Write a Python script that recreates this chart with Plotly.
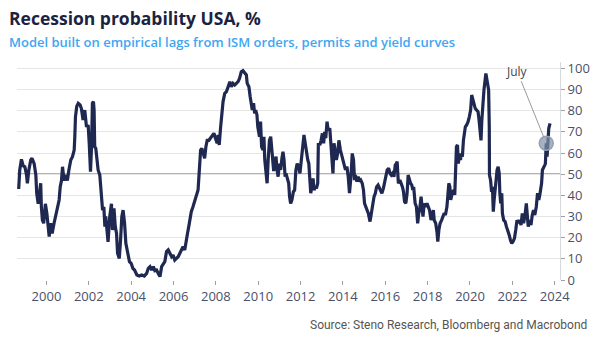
import plotly.graph_objects as go

years = [
1998.69,1998.74,1998.82,1998.90,1998.98,1999.06,1999.10,1999.17,1999.26,1999.32,1999.42,1999.50,1999.54,1999.61,1999.69,1999.73,1999.76,1999.81,1999.87,1999.95,
2000.02,2000.08,2000.13,2000.20,2000.27,2000.36,2000.43,2000.52,2000.60,2000.65,2000.71,2000.76,2000.83,2000.91,2000.99,
2001.06,2001.15,2001.23,2001.31,2001.34,2001.37,2001.43,2001.50,2001.59,2001.65,2001.73,2001.81,2001.89,2001.97,
2002.02,2002.05,2002.08,2002.13,2002.17,2002.22,2002.25,2002.28,2002.33,2002.39,2002.44,2002.52,2002.60,2002.65,2002.71,2002.76,2002.80,2002.87,2002.91,2002.99,
2003.07,2003.12,2003.19,2003.25,2003.31,2003.36,2003.44,2003.50,2003.56,2003.62,2003.69,2003.75,2003.84,2003.92,
2004.00,2004.08,2004.16,2004.27,2004.38,2004.50,2004.62,2004.73,2004.81,2004.89,2004.97,
2005.05,2005.12,2005.20,2005.28,2005.36,2005.44,2005.52,2005.59,2005.67,2005.75,2005.83,2005.91,2005.98,
2006.06,2006.14,2006.22,2006.30,2006.37,2006.45,2006.53,2006.59,2006.66,2006.72,2006.78,2006.84,2006.92,
2007.00,2007.08,2007.16,2007.20,2007.25,2007.28,2007.34,2007.41,2007.47,2007.53,2007.59,2007.67,2007.75,2007.83,2007.91,2007.98,
2008.06,2008.11,2008.16,2008.22,2008.28,2008.34,2008.42,2008.50,2008.58,2008.66,2008.73,2008.81,2008.89,2008.97,
2009.05,2009.12,2009.20,2009.28,2009.36,2009.44,2009.48,2009.56,2009.62,2009.67,2009.72,2009.78,2009.83,2009.88,2009.94,2009.98,
2010.06,2010.11,2010.16,2010.22,2010.27,2010.31,2010.38,2010.42,2010.47,2010.53,2010.59,2010.64,2010.69,2010.73,2010.78,2010.84,2010.89,2010.94,
2011.00,2011.06,2011.12,2011.17,2011.22,2011.27,2011.31,2011.38,2011.44,2011.48,2011.53,2011.59,2011.66,2011.72,2011.78,2011.84,2011.91,2011.97,
2012.03,2012.09,2012.16,2012.22,2012.28,2012.34,2012.39,2012.44,2012.48,2012.53,2012.59,2012.64,2012.70,2012.75,2012.81,2012.84,2012.91,2012.97,
2013.03,2013.09,2013.14,2013.19,2013.25,2013.30,2013.38,2013.42,2013.47,2013.53,2013.58,2013.64,2013.69,2013.75,2013.81,2013.88,2013.94,
2014.00,2014.06,2014.12,2014.19,2014.25,2014.31,2014.38,2014.44,2014.50,2014.55,2014.59,2014.66,2014.72,2014.78,2014.84,2014.91,2014.97,
2015.02,2015.08,2015.14,2015.20,2015.28,2015.34,2015.41,2015.47,2015.53,2015.59,2015.66,2015.72,2015.78,2015.84,2015.91,2015.97,
2016.03,2016.09,2016.16,2016.22,2016.28,2016.34,2016.41,2016.47,2016.52,2016.56,2016.59,2016.62,2016.69,2016.75,2016.81,2016.86,2016.91,2016.97,
2017.03,2017.08,2017.12,2017.19,2017.25,2017.30,2017.34,2017.41,2017.47,2017.53,2017.58,2017.62,2017.69,2017.73,2017.78,2017.84,2017.91,2017.97,
2018.03,2018.09,2018.16,2018.22,2018.27,2018.31,2018.38,2018.44,2018.48,2018.53,2018.59,2018.66,2018.72,2018.78,2018.84,2018.91,2018.95,
2019.00,2019.05,2019.09,2019.16,2019.22,2019.28,2019.33,2019.36,2019.41,2019.45,2019.50,2019.55,2019.59,2019.64,2019.69,2019.73,2019.78,2019.84,2019.91,2019.97,
2020.03,2020.08,2020.12,2020.19,2020.25,2020.31,2020.38,2020.42,2020.47,2020.52,2020.56,2020.61,2020.66,2020.75,2020.83,2020.88,2020.91,2020.92,2020.97,
2021.02,2021.06,2021.10,2021.14,2021.19,2021.24,2021.28,2021.33,2021.38,2021.41,2021.45,2021.50,2021.53,2021.59,2021.66,2021.72,2021.78,2021.85,2021.91,2021.97,
2022.03,2022.10,2022.16,2022.22,2022.28,2022.34,2022.41,2022.47,2022.53,2022.60,2022.66,2022.71,2022.75,2022.81,2022.88,2022.94,
2023.00,2023.06,2023.13,2023.19,2023.25,2023.31,2023.38,2023.42,2023.47,2023.53,2023.56,2023.60,2023.64,2023.67,2023.72,2023.78,
]

probability = [
43,52,57,54,53.5,49.6,45.7,52,56.7,57.5,55,49.6,41,36,42.5,45.7,34.6,28.3,26.8,36,
31.5,25.2,20.5,26.8,22,26.8,30,33,37.8,44,47,53.5,47,49.6,47,
52,56.7,58.3,61.4,67.7,77,82,83.5,82.7,81,75.6,80.3,72.4,73.2,
64.6,52,51.2,63,83.5,84.3,80.3,63,62.2,56.7,52,49.6,41,33,34.6,25.2,30,20.5,18,30,
36,23.6,33.9,25.2,22,12.6,10.2,18.9,30,33,26.8,17.3,12.6,8.7,
7.9,5.5,4.7,2.4,1.9,2.4,1.9,3.1,5.5,6.3,4.7,
6.3,4.4,4.7,3.1,1.6,6.3,7.9,8.7,13.4,14.2,12.6,11,11.8,
9.4,10.2,11,12.6,14.2,15.7,14.2,18.9,22,25.2,30,32.3,34.6,
37,39.4,42.5,48.8,56.7,61.4,62.2,59.8,57.5,63,66,66,67,68.5,69.3,67,
64.6,68.5,63.8,71.7,78.7,84.3,88.2,89,91.3,93.7,91.3,92.9,92.1,92.9,
93.7,95.3,98.4,98.9,97.6,96.9,92.9,91.3,86.6,83.5,80.3,83.5,78.7,80.3,78,72.4,
67.7,74.8,63,61.4,67.7,56.7,51.5,45.7,56.7,66,67.7,61.4,56.7,51.5,55,58.3,52,48.8,
55,52,57.5,60.6,56.7,48.8,50.4,48,45.7,39.4,36.2,37.8,41.7,42.5,52,55,53.5,50.4,
56.7,63,68.5,64.6,59.8,56.7,55,47.2,41,44,48,42.5,44,43.3,45.7,64.6,63.8,66,
69.3,64.6,70,67,74.8,70.9,71.7,66,58.3,50.4,64.6,61.4,56.7,59.8,66,61.4,59,
57.5,55,52,53.5,48.8,41,48.8,59.8,56.7,47.2,49.6,46.5,48.8,46.5,47.2,45.7,42.5,
36.2,34.6,33,31.5,27.6,31.5,36.2,39.4,41,44,44.9,43.3,41.7,41,43.3,45.7,
48.8,52,52.8,50.4,49.6,50.4,48.8,54.3,55,55.9,50.4,45.7,47.2,45.7,44,41.7,37,36.2,
41,49.6,48,45.7,44.9,42.5,44,36.2,34.6,26.8,31.5,33,39.4,34.6,30,36.2,34.6,36.2,
34.6,33,28.3,31.5,33,28.3,26.8,22.8,18.1,23.6,26.8,28.3,30,31.5,30.7,34.6,39.4,
45.7,44,37.8,41,42.5,40.2,52,63,63.8,55,59.8,56.7,59,58.3,66,68.5,72.4,73.2,74.8,77.2,
80.3,87.4,85.8,83.5,81,80.3,79.5,76.4,70.9,66,75.6,83.5,89.8,97.6,92.9,89.8,72.4,49.6,47.2,
41.7,44,32.3,37.8,44,50.4,52,53.5,50.4,41,36.2,41,31.5,28.3,27.6,25.2,23.6,21.3,18.9,17.3,
18.1,19.7,23.6,28.3,26.8,28.3,26,31.5,26.8,30.7,36.2,30,25.2,28.3,26,30.7,
33,30.7,34.6,41,37.8,41,45.7,52,53.5,54.3,55,64.6,58.3,64.6,71.7,74,
]

july_year = [2023.60]
july_value = [64.6]
july_label = "July"

x_tick_vals = list(range(2000, 2025, 2))
x_tick_text = [str(v) for v in x_tick_vals]
y_tick_vals = list(range(0, 101, 10))

title_text = "Recession probability USA, %"
subtitle_text = "Model built on empirical lags from ISM orders, permits and yield curves"
source_text = "Source: Steno Research, Bloomberg and Macrobond"

W, H = 602, 344
L, R, T, B = 17, 38, 62, 64
PW, PH = W - L - R, H - T - B

def px(xp):
    return (xp - L) / PW

def py(yp):
    return (H - B - yp) / PH

FONT = "Open Sans"
fig = go.Figure()
fig.add_trace(go.Scatter(
    x=years, y=probability, mode="lines",
    line=dict(color="#1f2850", width=3.2),
    hoverinfo="skip", showlegend=False,
))
fig.add_trace(go.Scatter(
    x=july_year, y=july_value, mode="markers",
    marker=dict(size=14, color="rgba(125,145,170,0.7)",
                line=dict(color="rgba(150,160,175,1)", width=1.5)),
    hoverinfo="skip", showlegend=False,
))

fig.add_shape(type="line", xref="paper", yref="y", x0=0, x1=1, y0=50, y1=50,
              line=dict(color="#5f6f85", width=1.5), layer="below")

fig.add_annotation(x=july_year[0], y=july_value[0], xref="x", yref="y",
                   text=july_label, showarrow=True, arrowhead=0, arrowwidth=1,
                   arrowcolor="#9a9a9a", ax=-29, ay=-72, standoff=6,
                   font=dict(family=FONT, size=12, color="#444444"))

fig.add_annotation(x=px(7), y=py(18), xref="paper", yref="paper", xanchor="left", yanchor="middle",
                   text="<b>" + title_text + "</b>", showarrow=False,
                   font=dict(family=FONT, size=17.5, color="#1b2340"))
fig.add_annotation(x=px(7), y=py(42), xref="paper", yref="paper", xanchor="left", yanchor="middle",
                   text=subtitle_text, showarrow=False,
                   font=dict(family=FONT, size=13, color="#3ea6f2", weight=600))
fig.add_annotation(x=px(593), y=py(325), xref="paper", yref="paper", xanchor="right", yanchor="middle",
                   text=source_text, showarrow=False,
                   font=dict(family="Roboto", size=12, color="#555555"))

fig.update_layout(
    width=W, height=H,
    margin=dict(l=L, r=R, t=T, b=B, pad=0),
    paper_bgcolor="white", plot_bgcolor="white",
    font=dict(family=FONT, size=13, color="#4a5068"),
    xaxis=dict(
        range=[1998.61, 2024.25], tickvals=x_tick_vals, ticktext=x_tick_text,
        showgrid=False, zeroline=False, showline=False,
        ticks="outside", ticklen=4, tickcolor="#9aa0aa", tickwidth=1,
        tickfont=dict(family=FONT, size=13, color="#4a5068"),
    ),
    yaxis=dict(
        range=[0, 103], tickvals=y_tick_vals, side="right",
        showgrid=True, gridcolor="#e6e6e6", gridwidth=1, zeroline=False,
        showline=True, linecolor="#d6d8dc", linewidth=1,
        ticks="outside", ticklen=4, tickcolor="#9aa0aa",
        tickfont=dict(family=FONT, size=13, color="#4a5068"),
    ),
)

fig.write_html("out.html")
